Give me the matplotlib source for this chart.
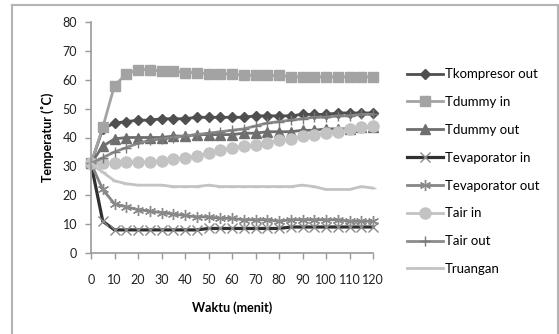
import matplotlib
matplotlib.use("Agg")
import matplotlib.pyplot as plt
from matplotlib.lines import Line2D

plt.rcParams['font.family'] = ['Lato', 'DejaVu Sans']

waktu = list(range(0, 125, 5))
x_ticks = list(range(0, 130, 10))
y_ticks = list(range(0, 90, 10))

t_kompresor_out = [31, 43, 45, 45.5, 46, 46, 46.5, 46.5, 46.5, 47, 47, 47, 47, 47,
                   47.5, 47.5, 47.5, 47.5, 48, 48, 48, 48.5, 48.5, 48.5, 48.5]
t_dummy_in = [31, 43.5, 58, 62, 63.5, 63.5, 63, 63, 62.5, 62.5, 62, 62, 62, 61.5,
              61.5, 61.5, 61.5, 61, 61, 61, 61, 61, 61, 61, 61]
t_dummy_out = [31, 37, 39.5, 40, 40, 40, 40, 40.5, 40.5, 41, 41, 41, 41, 41.5,
               41.5, 42, 42, 42, 42.5, 42.5, 43, 43, 43, 43.5, 43.5]
t_evap_in = [31, 11, 8, 8, 8, 8, 8, 8, 8, 8, 8.5, 8.5, 8.5, 8.5, 8.5, 8.5, 8.5,
             9, 9, 9, 9, 9, 9, 9, 9]
t_evap_out = [31, 22, 17, 16, 15, 14.5, 14, 13.5, 13, 12.5, 12.5, 12, 12, 11.5,
              11.5, 11.5, 11, 11.5, 11.5, 11.5, 11.5, 11.5, 11, 11, 11]
t_air_in = [31, 31, 31, 31.5, 31.5, 31.5, 32, 32.5, 33, 33.5, 34.5, 35.5, 36.5,
            37, 37.5, 38, 39, 39.5, 40.5, 41, 41.5, 42, 43, 43.5, 44]
t_air_out = [31, 33, 35, 36.5, 38, 39, 39.5, 40, 40.5, 41, 41.5, 42, 42.5, 43,
             44, 45, 45.5, 46, 46.5, 47, 47, 47.5, 47.5, 48, 48]
t_ruangan = [31, 28, 25, 24, 23.5, 23.5, 23.5, 23, 23, 23, 23.5, 23, 23, 23, 23,
             23, 23, 23, 23.5, 23, 22, 22, 22, 23, 22.5]

labels = ["Tkompresor out", "Tdummy in", "Tdummy out", "Tevaporator in",
          "Tevaporator out", "Tair in", "Tair out", "Truangan"]

W, H = 559, 334
fig = plt.figure(figsize=(W / 100, H / 100), dpi=100)

# outer border
border = '#b4b4b4'
for xs, ys in [([12, 558], [5, 5]), ([12, 12], [5, 334]), ([558, 558], [5, 334])]:
    fig.add_artist(Line2D([x / W for x in xs], [1 - y / H for y in ys],
                          color=border, lw=1.5, transform=fig.transFigure))

ax = fig.add_axes([91 / W, 1 - 253 / H, (373 - 91) / W, (253 - 22) / H])

styles = [
    (t_kompresor_out, dict(color='#4f4f4f', lw=2.0, marker='D', ms=5.5, mfc='#4f4f4f', mec='#4f4f4f')),
    (t_dummy_in, dict(color='#a3a3a3', lw=2.0, marker='s', ms=7, mfc='#a3a3a3', mec='#a3a3a3')),
    (t_dummy_out, dict(color='#6e6e6e', lw=2.0, marker='^', ms=6.5, mfc='#6e6e6e', mec='#6e6e6e')),
    (t_evap_in, dict(color='#303030', lw=2.3, marker='x', ms=7, mfc='none', mec='#8a8a8a', mew=1.0)),
    (t_evap_out, dict(color='#858585', lw=2.0, marker=(6, 2, 0), ms=8, mec='#8a8a8a', mew=1.0)),
    (t_air_in, dict(color='#c3c3c3', lw=2.0, marker='o', ms=8, mfc='#c3c3c3', mec='#c3c3c3')),
    (t_air_out, dict(color='#8c8c8c', lw=2.0, marker='+', ms=7, mec='#7a7a7a', mew=1.0)),
    (t_ruangan, dict(color='#c3c3c3', lw=2.0, marker='_', ms=5, mec='#c3c3c3', mew=1.0)),
]

handles = []
for (vals, st), lab in zip(styles, labels):
    h, = ax.plot(waktu, vals, label=lab, clip_on=False, **st)
    handles.append(h)

ax.set_xlim(0, 120)
ax.set_ylim(0, 80)
ax.set_xticks(x_ticks)
ax.set_yticks(y_ticks)
ax.set_xticklabels([str(v) for v in x_ticks])
ax.set_yticklabels([str(v) for v in y_ticks])

axis_col = '#9a9a9a'
for s in ['top', 'right']:
    ax.spines[s].set_visible(False)
for s in ['left', 'bottom']:
    ax.spines[s].set_color(axis_col)
    ax.spines[s].set_linewidth(1.2)
ax.tick_params(axis='both', direction='out', length=4, width=1.0, color=axis_col,
               labelsize=9, labelcolor='#222222')
ax.tick_params(axis='x', pad=11)
ax.tick_params(axis='y', pad=6)

ax.set_ylabel('Temperatur (˚C)', fontsize=9, fontweight='bold', labelpad=6)
ax.set_xlabel('Waktu (menit)', fontsize=9, fontweight='bold', labelpad=11)

leg = fig.legend(handles=handles, labels=labels, loc='upper left',
                 bbox_to_anchor=(402 / W, 1 - 63 / H), frameon=False,
                 fontsize=9.5, handlelength=2.7, handletextpad=0.15,
                 labelspacing=1.2, borderaxespad=0)

fig.savefig('out.png', dpi=100)
